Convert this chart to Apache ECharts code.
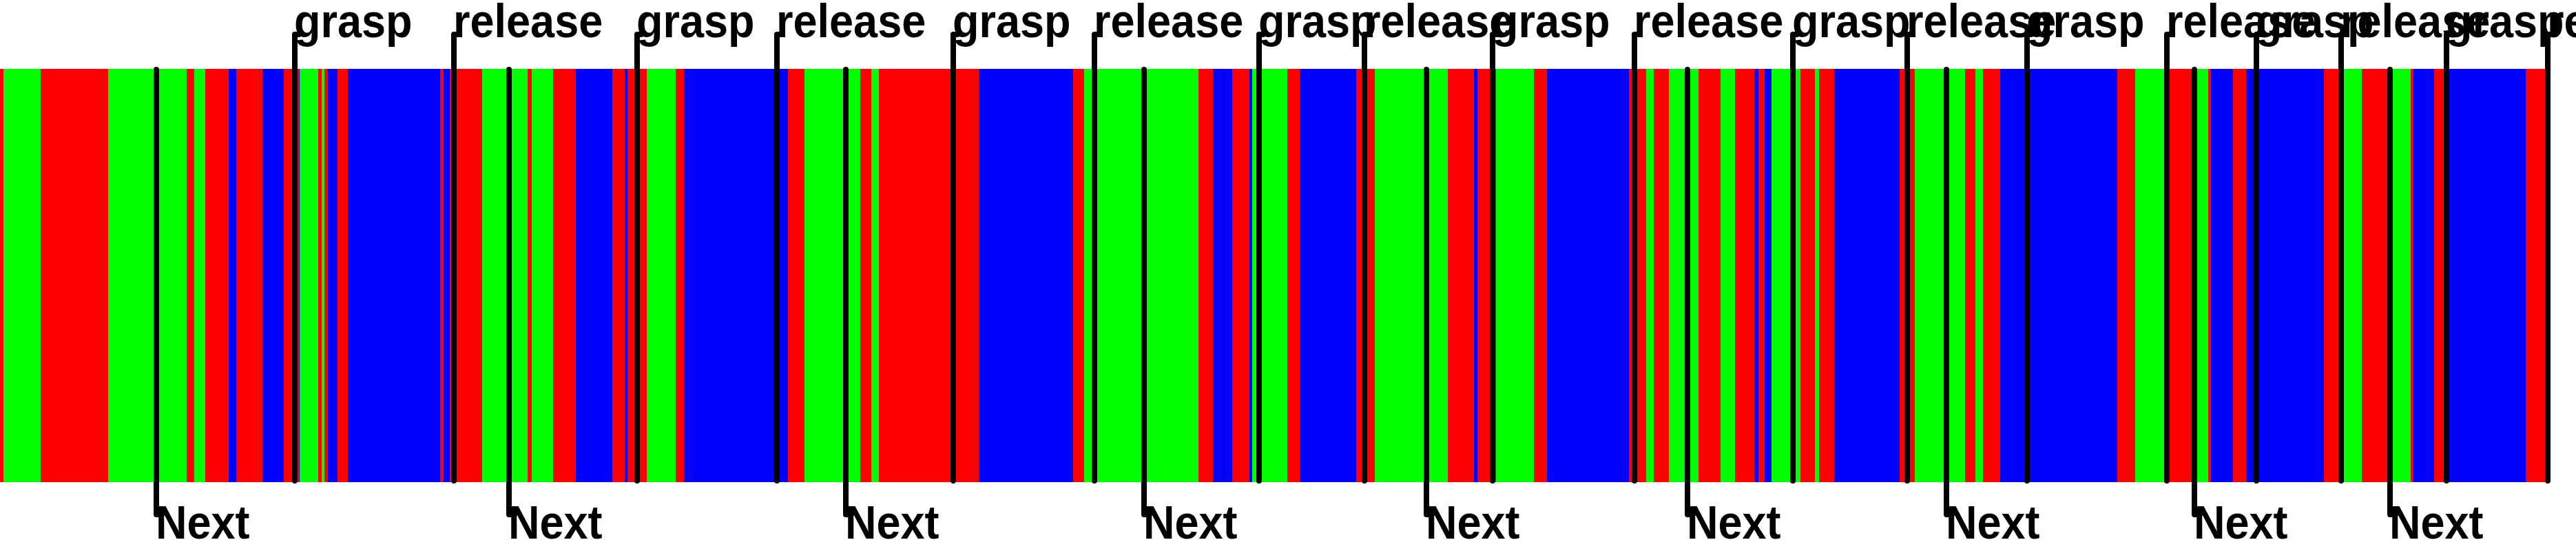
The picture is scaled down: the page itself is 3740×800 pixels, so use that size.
<!DOCTYPE html>
<html><head><meta charset="utf-8">
<script src="https://cdn.jsdelivr.net/npm/echarts@6/dist/echarts.min.js"></script>
<style>html,body{margin:0;padding:0;background:#fff}#c{width:3740px;height:800px}</style>
</head><body><div id="c"></div>
<script>
// Segment boundaries (frame index); segment i spans segBounds[i]..segBounds[i+1]
const segBounds = [0,5,59,157,271,282,298,332,343,381,412,434,435,462,467,471,476,490,505,639,644,653,700,766,772,803,836,889,907,911,939,981,993,1144,1168,1249,1265,1276,1421,1558,1574,1740,1761,1789,1814,1818,1869,1887,1969,1996,2102,2140,2145,2172,2227,2246,2365,2390,2401,2423,2466,2498,2519,2547,2553,2562,2572,2614,2635,2641,2663,2758,2780,2853,2868,2879,2904,3074,3100,3142,3182,3206,3210,3242,3261,3374,3397,3429,3467,3500,3504,3534,3551,3667,3697];
// Segment classes: R / G / B
const segClass = ['R','G','R','G','R','G','R','B','R','B','R','B','G','R','G','R','B','R','B','R','B','R','G','R','G','R','B','R','B','R','G','R','B','R','G','R','G','R','B','R','G','R','B','R','B','G','R','B','R','G','R','B','R','G','R','B','R','G','R','G','R','G','R','B','R','B','G','R','G','R','B','R','G','R','G','R','B','R','G','R','G','R','B','R','B','R','G','R','G','R','B','R','B','R'];
// Top annotations
const eventX = [428,659,925,1128,1384,1589,1828,1981,2167,2373,2603,2769,2943,3146,3276,3399,3552,3699];
const eventLabels = ['grasp','release','grasp','release','grasp','release','grasp','release','grasp','release','grasp','release','grasp','release','grasp','release','grasp','release'];
// Bottom annotations
const nextX = [227,739,1228,1661,2071,2450,2826,3186,3470];
const nextLabels = ['Next','Next','Next','Next','Next','Next','Next','Next','Next'];

const classColor = {R:'#ff0000', G:'#00ff00', B:'#0000ff'};
const FONT = 'bold 63px "Liberation Sans", Arial, sans-serif';
const SY = 1.1;

const segData = segClass.map((c,i)=>[segBounds[i], segBounds[i+1], c]);
const evData = eventX.map((x,i)=>[x, eventLabels[i]]);
const nxData = nextX.map((x,i)=>[x, nextLabels[i]]);

function label(text, x, y){
  return {type:'text', x:x, y:y, scaleY:SY,
          style:{text:text, x:0, y:0, font:FONT, fill:'#000', align:'left', verticalAlign:'middle'}};
}

const chart = echarts.init(document.getElementById('c'), null, {renderer:'canvas'});
chart.setOption({
  animation:false,
  grid:{left:0,right:0,top:100,bottom:100},
  xAxis:{type:'value',min:0,max:3740,show:false},
  yAxis:{type:'value',min:0,max:1,show:false},
  series:[
    {type:'custom', clip:false, data:segData, encode:{x:[0,1]},
     renderItem:(params, api)=>{
       const a = api.coord([api.value(0),1]);
       const b = api.coord([api.value(1),0]);
       const x0 = Math.round(a[0]), x1 = Math.round(b[0]);
       return {type:'rect', shape:{x:x0,y:a[1],width:x1-x0,height:b[1]-a[1]},
               style:{fill:classColor[segData[params.dataIndex][2]]}};
     }},
    {type:'custom', clip:false, data:evData, encode:{x:0}, z:5,
     renderItem:(params, api)=>{
       const x = api.coord([api.value(0),0])[0];
       const yb = api.coord([api.value(0),0])[1];
       const yt = api.coord([api.value(0),1])[1];
       const topY = yt - 50;
       return {type:'group', children:[
         {type:'polyline', shape:{points:[[x,yb-2],[x,topY],[x+6,topY]]},
          style:{stroke:'#000',lineWidth:8,lineCap:'round',lineJoin:'round',fill:null}},
         label(evData[params.dataIndex][1], x-1, yt-65)
       ]};
     }},
    {type:'custom', clip:false, data:nxData, encode:{x:0}, z:5,
     renderItem:(params, api)=>{
       const x = api.coord([api.value(0),0])[0];
       const yb = api.coord([api.value(0),0])[1];
       const yt = api.coord([api.value(0),1])[1];
       const botY = yb + 47;
       return {type:'group', children:[
         {type:'polyline', shape:{points:[[x,yt+1],[x,botY],[x+8,botY]]},
          style:{stroke:'#000',lineWidth:8,lineCap:'round',lineJoin:'round',fill:null}},
         label(nxData[params.dataIndex][1], x-1, yb+63)
       ]};
     }}
  ]
});
</script>
</body></html>
